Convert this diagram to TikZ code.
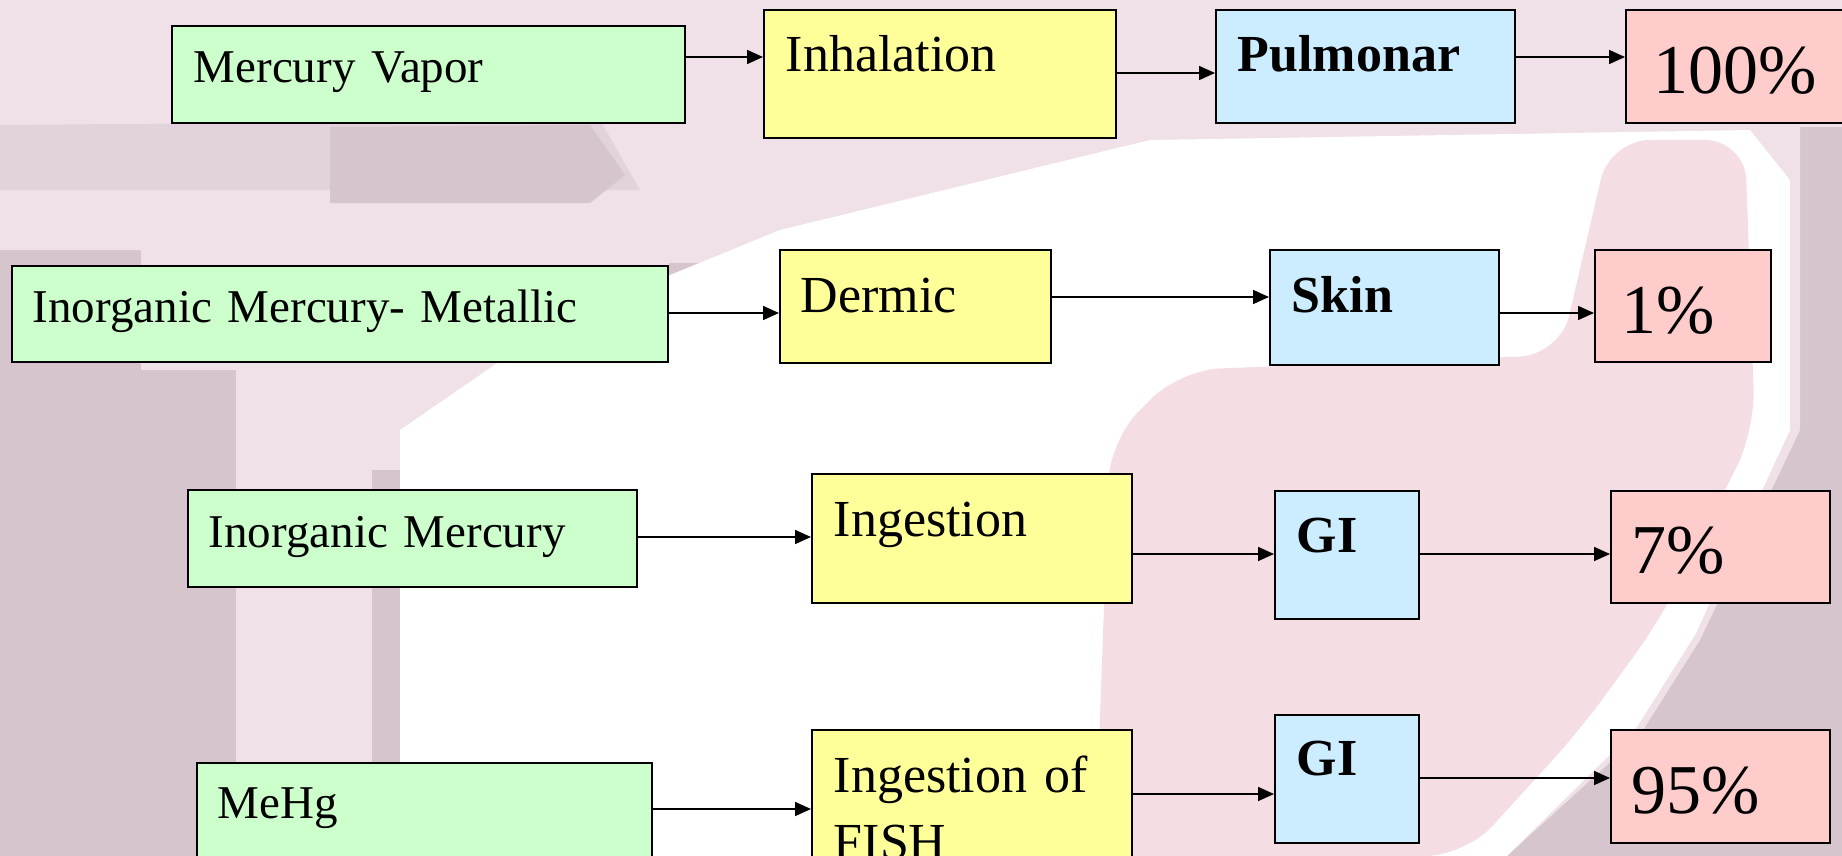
\documentclass[tikz,border=0pt]{standalone}
\usepackage{fontspec}
\setmainfont{Liberation Serif}
\usetikzlibrary{arrows.meta}
\definecolor{srcgreen}{RGB}{204,255,204}
\definecolor{routeyellow}{RGB}{255,255,153}
\definecolor{organblue}{RGB}{204,236,255}
\definecolor{ratepink}{RGB}{255,204,204}
\definecolor{bgmauve}{RGB}{214,197,205}
\definecolor{bgmid}{RGB}{226,210,219}
\definecolor{bglight}{RGB}{240,224,232}
\definecolor{bgpink}{RGB}{244,222,228}

\begin{document}
\begin{tikzpicture}[
    x=0.5pt, y=-0.5pt,
    box/.style={draw, line width=0.8pt, anchor=north west, inner ysep=0pt, inner xsep=11pt, align=left},
    source/.style={box, fill=srcgreen, font=\fontsize{23.5}{28}\selectfont},
    route/.style={box, fill=routeyellow, font=\fontsize{26}{33.5}\selectfont},
    organ/.style={box, fill=organblue, font=\fontsize{26}{31}\selectfont\bfseries},
    rate/.style={box, fill=ratepink, font=\fontsize{35}{42}\selectfont},
    arr/.style={-{Triangle[length=8pt, width=7pt]}, line width=0.8pt}
]
\useasboundingbox (0,0) rectangle (1842,856);

% background
\fill[bgmauve] (0,0) rectangle (1842,856);
\fill[bglight] (0,0) -- (1842,0) -- (1842,127) -- (1800,127) -- (1800,430) -- (1700,640)
    -- (1640,735) -- (1507,856) -- (236,856) -- (236,370) -- (141,370) -- (141,250)
    -- (0,250) -- cycle;
\fill[bgmid] (0,125) -- (600,120) -- (640,190) -- (0,190) -- cycle;
\fill[bgmauve] (330,127) -- (590,125) -- (625,175) -- (590,203) -- (330,203) -- cycle;
\fill[bgmauve] (669,263) rectangle (780,300);
\fill[bgmauve] (372,470) rectangle (400,856);
\fill[white] (400,856) -- (400,430) -- (560,320) -- (780,230) -- (1150,140) -- (1750,130)
    -- (1790,180) -- (1790,430) -- (1695,635) -- (1635,730) -- (1507,856) -- cycle;
\fill[bgpink, rounded corners=20pt] (1095,856) -- (1110,440) -- (1180,370) -- (1560,355)
    -- (1610,140) -- (1745,140) -- (1755,430) -- (1660,620) -- (1580,730) -- (1465,856) -- cycle;

% row 1
\node[source, text width=234.5pt, text height=28.5pt, text depth=20pt] (mv) at (171,25) {Mercury Vapor};
\node[route, text width=154pt, text height=31pt, text depth=33pt] (inh) at (763,9) {Inhalation};
\node[organ, text width=127.5pt, text height=31pt, text depth=25.5pt] (pul) at (1215,9) {Pulmonar};
\node[rate, inner xsep=14pt, text width=94.5pt, text height=42pt, text depth=14.5pt] (p100) at (1625,9) {100\%};

% row 2
\node[source, inner xsep=10.5pt, text width=307pt, text height=28.5pt, text depth=19.5pt] (met) at (11,265) {Inorganic Mercury- Metallic};
\node[route, inner xsep=10.5pt, text width=114.5pt, text height=31.5pt, text depth=25pt] (derm) at (779,249) {Dermic};
\node[organ, text width=92.5pt, text height=31.5pt, text depth=26pt] (skin) at (1269,249) {Skin};
\node[rate, inner xsep=13.5pt, text width=61pt, text height=42pt, text depth=14pt] (p1) at (1594,249) {1\%};

% row 3
\node[source, inner xsep=10.5pt, text width=203.5pt, text height=29pt, text depth=19.5pt] (inorg) at (187,489) {Inorganic Mercury};
\node[route, text width=138pt, text height=31.5pt, text depth=33pt] (ing) at (811,473) {Ingestion};
\node[organ, text width=50pt, text height=31pt, text depth=33pt] (gia) at (1274,490) {GI};
\node[rate, inner xsep=10.5pt, text width=88.5pt, text height=41.5pt, text depth=14.5pt] (p7) at (1610,490) {7\%};

% row 4
\node[source, inner xsep=10.5pt, text width=206.5pt, text height=28pt, text depth=31pt] (mehg) at (196,762) {MeHg};
\node[route, text width=138pt, text height=31.5pt, text depth=44pt] (fish) at (811,729) {Ingestion of\\FISH};
\node[organ, text width=50pt, text height=30.5pt, text depth=33.5pt] (gib) at (1274,714) {GI};
\node[rate, inner xsep=10.5pt, text width=88.5pt, text height=42pt, text depth=14.5pt] (p95) at (1610,729) {95\%};

% connectors
\draw[arr] (mv.east |- 0,57) -- (inh.west |- 0,57);
\draw[arr] (inh.east |- 0,73) -- (pul.west |- 0,73);
\draw[arr] (pul.east |- 0,57) -- (p100.west |- 0,57);
\draw[arr] (met.east |- 0,313) -- (derm.west |- 0,313);
\draw[arr] (derm.east |- 0,297) -- (skin.west |- 0,297);
\draw[arr] (skin.east |- 0,313) -- (p1.west |- 0,313);
\draw[arr] (inorg.east |- 0,537) -- (ing.west |- 0,537);
\draw[arr] (ing.east |- 0,554) -- (gia.west |- 0,554);
\draw[arr] (gia.east |- 0,554) -- (p7.west |- 0,554);
\draw[arr] (mehg.east |- 0,809) -- (fish.west |- 0,809);
\draw[arr] (fish.east |- 0,794) -- (gib.west |- 0,794);
\draw[arr] (gib.east |- 0,778) -- (p95.west |- 0,778);
\end{tikzpicture}
\end{document}
